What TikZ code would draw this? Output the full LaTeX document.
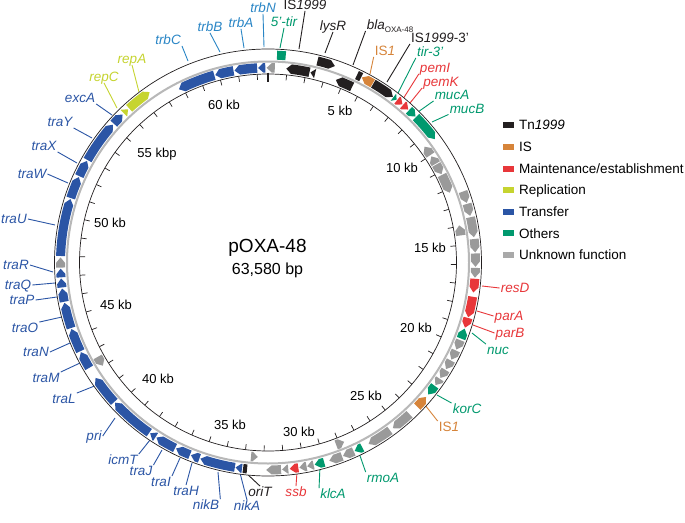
\documentclass[tikz,border=0pt]{standalone}
\usepackage{fontspec}
\setmainfont{Liberation Sans}
\definecolor{tnblack}{HTML}{231F20}
\definecolor{isorange}{HTML}{D6843A}
\definecolor{mred}{HTML}{E8373A}
\definecolor{repyel}{HTML}{C6D430}
\definecolor{trblue}{HTML}{2B55A5}
\definecolor{trblight}{HTML}{2A86C6}
\definecolor{ogreen}{HTML}{00996E}
\definecolor{ugray}{HTML}{9A9A9A}
\definecolor{ringgray}{HTML}{B8B8B8}
\newcommand\gcw[5]{%
  \pgfmathsetmacro\gA{#1-90}%
  \pgfmathsetmacro\gB{#2-90}%
  \pgfmathsetmacro\gC{#2-90-min(1.5,#2-#1)}%
  \pgfmathsetmacro\gM{(#3+#4)/2}%
  \fill[#5] (\gA:#3) -- (\gA:#4) arc[start angle=\gA, end angle=\gC, radius=#4] -- (\gB:\gM) -- (\gC:#3) arc[start angle=\gC, end angle=\gA, radius=#3] -- cycle;}
\newcommand\gccw[5]{%
  \pgfmathsetmacro\gA{#1-90}%
  \pgfmathsetmacro\gB{#2-90}%
  \pgfmathsetmacro\gC{#1-90+min(1.5,#2-#1)}%
  \pgfmathsetmacro\gM{(#3+#4)/2}%
  \fill[#5] (\gA:\gM) -- (\gC:#4) arc[start angle=\gC, end angle=\gB, radius=#4] -- (\gB:#3) arc[start angle=\gB, end angle=\gC, radius=#3] -- cycle;}
\newcommand\gbox[5]{%
  \pgfmathsetmacro\gA{#1-90}%
  \pgfmathsetmacro\gB{#2-90}%
  \fill[#5] (\gA:#3) arc[start angle=\gA, end angle=\gB, radius=#3] -- (\gB:#4) arc[start angle=\gB, end angle=\gA, radius=#4] -- cycle;}
\newcommand\ocw[3]{\gcw{#1}{#2}{203}{212}{#3}}
\newcommand\occw[3]{\gccw{#1}{#2}{203}{212}{#3}}
\newcommand\obox[3]{\gbox{#1}{#2}{203}{212}{#3}}
\newcommand\icw[3]{\gcw{#1}{#2}{190}{199.5}{#3}}
\newcommand\iccw[3]{\gccw{#1}{#2}{190}{199.5}{#3}}
\begin{document}
\begin{tikzpicture}[x=1pt,y=-1pt,
  lbl/.style={font=\fontsize{13.5}{15}\selectfont\itshape, inner sep=1pt, text height=9.5pt, text depth=0pt},
  kb/.style={font=\fontsize{13}{15}\selectfont, inner sep=0pt, text height=9.5pt, text depth=0pt},
  leg/.style={font=\fontsize{13.5}{15}\selectfont, inner sep=0pt, anchor=west, text height=9.5pt, text depth=0pt},
  legsq/.style={minimum width=10.5pt, minimum height=6pt, inner sep=0pt},
  lead/.style={line width=0.9pt}]
\useasboundingbox (0,0) rectangle (685,522);
\fill[white] (0,0) rectangle (685,522);

% ---------- labels ----------
\begin{scope}[lbl]
% top
\node[trblight] (trbN) at (263,8) {trbN};
\node[trblight] (trbA) at (241,23) {trbA};
\node[trblight] (trbB) at (210,27) {trbB};
\node[trblight] (trbC) at (168,40) {trbC};
\node[ogreen] (tirfive) at (284,22) {5'-tir};
\node[tnblack] (isnn) at (305,5) {{\upshape IS}1999};
\node[tnblack] (lysR) at (333,26) {lysR};
\node[tnblack] (bla) at (390,25) {bla\raisebox{-2.5pt}{\fontsize{8}{8}\selectfont\upshape OXA-48}};
\node[isorange] (isonea) at (385,51) {{\upshape IS}1};
\node[tnblack] (isthree) at (440,38) {{\upshape IS}1999{\upshape -3'}};
\node[ogreen] (tirthree) at (430,52) {tir-3'};
\node[mred] (pemI) at (435,68) {pemI};
\node[mred] (pemK) at (441,82) {pemK};
\node[ogreen] (mucA) at (452,95) {mucA};
\node[ogreen] (mucB) at (467,108.5) {mucB};
% right
\node[mred] (resD) at (515,288) {resD};
\node[mred] (parA) at (509,316) {parA};
\node[mred] (parB) at (510,333) {parB};
\node[ogreen] (nuc) at (498,350) {nuc};
\node[ogreen] (korC) at (467,409) {korC};
\node[isorange] (isoneb) at (449,427) {{\upshape IS}1};
% bottom
\node[ogreen] (rmoA) at (383,478) {rmoA};
\node[ogreen] (klcA) at (333,494) {klcA};
\node[mred] (ssb) at (296,492) {ssb};
\node[tnblack] (oriT) at (260,492) {oriT};
\node[trblue] (nikA) at (247,506) {nikA};
\node[trblue] (nikB) at (206,505) {nikB};
\node[trblue] (traH) at (186,491) {traH};
\node[trblue] (traI) at (161,482) {traI};
\node[trblue] (traJ) at (141,471) {traJ};
\node[trblue] (icmT) at (123,460) {icmT};
\node[trblue] (pri) at (94,436) {pri};
% left
\node[trblue] (traL) at (64,399) {traL};
\node[trblue] (traM) at (46,378) {traM};
\node[trblue] (traN) at (36,352) {traN};
\node[trblue] (traO) at (25,328) {traO};
\node[trblue] (traP) at (22,300) {traP};
\node[trblue] (traQ) at (18,285) {traQ};
\node[trblue] (traR) at (16,265) {traR};
\node[trblue] (traU) at (14,219) {traU};
\node[trblue] (traW) at (32,174) {traW};
\node[trblue] (traX) at (44,146) {traX};
\node[trblue] (traY) at (60,122) {traY};
\node[trblue] (excA) at (80,98) {excA};
\node[repyel] (repC) at (104,77) {repC};
\node[repyel] (repA) at (132,59) {repA};
\end{scope}

% ---------- connector ends ----------
\coordinate (e-trbN) at (264,47);
\coordinate (e-trbA) at (244,48);
\coordinate (e-trbB) at (220,52);
\coordinate (e-trbC) at (188,61);
\coordinate (e-tirfive) at (280,48);
\coordinate (e-isnn) at (299,49);
\coordinate (e-lysR) at (325,53);
\coordinate (e-bla) at (353,65);
\coordinate (e-isonea) at (370,74);
\coordinate (e-isthree) at (387,82);
\coordinate (e-tirthree) at (398,93);
\coordinate (e-pemI) at (403,99);
\coordinate (e-pemK) at (410,103);
\coordinate (e-mucA) at (418,112);
\coordinate (e-mucB) at (432,122);
\coordinate (e-resD) at (482,286);
\coordinate (e-parA) at (477,311);
\coordinate (e-parB) at (473,325);
\coordinate (e-nuc) at (472,333);
\coordinate (e-korC) at (437,395);
\coordinate (e-isoneb) at (425,405);
\coordinate (e-rmoA) at (358,450);
\coordinate (e-klcA) at (320,466);
\coordinate (e-ssb) at (297,472);
\coordinate (e-oriT) at (245,472);
\coordinate (e-nikA) at (240,473);
\coordinate (e-nikB) at (218,472);
\coordinate (e-traH) at (192,463);
\coordinate (e-traI) at (180,458);
\coordinate (e-traJ) at (162,450);
\coordinate (e-icmT) at (150,440);
\coordinate (e-pri) at (115,418);
\coordinate (e-traL) at (97,385);
\coordinate (e-traM) at (80,363);
\coordinate (e-traN) at (70,343);
\coordinate (e-traO) at (62,317);
\coordinate (e-traP) at (57,297);
\coordinate (e-traQ) at (55,283);
\coordinate (e-traR) at (53,272);
\coordinate (e-traU) at (55,225);
\coordinate (e-traW) at (68,183);
\coordinate (e-traX) at (77,163);
\coordinate (e-traY) at (92,138);
\coordinate (e-excA) at (112,115);
\coordinate (e-repC) at (117,108);
\coordinate (e-repA) at (139,92);

\begin{scope}[lead]
\draw[trblight] (trbN.south) -- (e-trbN);
\draw[trblight] (trbA.south) -- (e-trbA);
\draw[trblight] (trbB.south) -- (e-trbB);
\draw[trblight] (trbC.south east) -- (e-trbC);
\draw[ogreen] (tirfive.south) -- (e-tirfive);
\draw[tnblack] (isnn.south) -- (e-isnn);
\draw[tnblack] (lysR.south) -- (e-lysR);
\draw[tnblack] (bla.south west) -- (e-bla);
\draw[isorange] (isonea.south west) -- (e-isonea);
\draw[tnblack] (isthree.south west) -- (e-isthree);
\draw[ogreen] (tirthree.south west) -- (e-tirthree);
\draw[mred] (pemI.south west) -- (e-pemI);
\draw[mred] (pemK.south west) -- (e-pemK);
\draw[ogreen] (mucA.south west) -- (e-mucA);
\draw[ogreen] (mucB.south west) -- (e-mucB);
\draw[mred] (resD.west) -- (e-resD);
\draw[mred] (parA.west) -- (e-parA);
\draw[mred] (parB.west) -- (e-parB);
\draw[ogreen] (nuc.north west) -- (e-nuc);
\draw[ogreen] (korC.north west) -- (e-korC);
\draw[isorange] (isoneb.north west) -- (e-isoneb);
\draw[ogreen] (rmoA.north west) -- (e-rmoA);
\draw[ogreen] (klcA.north west) -- (e-klcA);
\draw[mred] (ssb.north) -- (e-ssb);
\draw[tnblack] (oriT.north) -- (e-oriT);
\draw[trblue] (nikA.north) -- (e-nikA);
\draw[trblue] (nikB.north east) -- (e-nikB);
\draw[trblue] (traH.north) -- (e-traH);
\draw[trblue] (traI.north east) -- (e-traI);
\draw[trblue] (traJ.north east) -- (e-traJ);
\draw[trblue] (icmT.north east) -- (e-icmT);
\draw[trblue] (pri.east) -- (e-pri);
\draw[trblue] (traL.north east) -- (e-traL);
\draw[trblue] (traM.north east) -- (e-traM);
\draw[trblue] (traN.east) -- (e-traN);
\draw[trblue] (traO.north east) -- (e-traO);
\draw[trblue] (traP.east) -- (e-traP);
\draw[trblue] (traQ.east) -- (e-traQ);
\draw[trblue] (traR.east) -- (e-traR);
\draw[trblue] (traU.east) -- (e-traU);
\draw[trblue] (traW.east) -- (e-traW);
\draw[trblue] (traX.south east) -- (e-traX);
\draw[trblue] (traY.south east) -- (e-traY);
\draw[trblue] (excA.south east) -- (e-excA);
\draw[repyel] (repC.south) -- (e-repC);
\draw[repyel] (repA.south) -- (e-repA);
\end{scope}

% ---------- map ----------
\begin{scope}[shift={(268,262.5)}]
\fill[white] (0,0) circle[radius=213.5];
\draw[ringgray, line width=2pt] (0,0) circle[radius=201];
\draw[tnblack, line width=0.7pt] (0,0) circle[radius=213.5];
\draw[tnblack, line width=0.7pt] (0,0) circle[radius=188.5];
\foreach \k in {1,...,63}{\draw[tnblack, line width=0.7pt] ({\k*5.66216-90}:188.5) -- ({\k*5.66216-90}:183);}
\draw[tnblack, line width=2.2pt] (-90:190) -- (-90:180.5);

% outer strand
\obox{2.5}{4.9}{ogreen}
\ocw{13.8}{18.8}{tnblack}
\obox{25.4}{26.7}{tnblack}
\occw{26.9}{30.3}{isorange}
\ocw{30.5}{37}{tnblack}
\ocw{37.2}{38.3}{ogreen}
\ocw{38.5}{40.4}{mred}
\ocw{40.6}{42.5}{mred}
\ocw{42.8}{45.3}{ogreen}
\ocw{45.5}{53.5}{ogreen}
\ocw{70}{73.3}{ugray}
\ocw{73.6}{77}{ugray}
\ocw{77.4}{83}{ugray}
\ocw{83.5}{87.2}{ugray}
\ocw{87.5}{91.2}{ugray}
\ocw{91.5}{94.2}{ugray}
\ocw{94.5}{98.3}{mred}
\ocw{99.5}{105.3}{mred}
\ocw{105.5}{108.3}{mred}
\occw{108.6}{111.5}{ogreen}
\ocw{112}{114.8}{ugray}
\ocw{115.1}{117.9}{ugray}
\ocw{118.2}{120.9}{ugray}
\ocw{121.2}{123.8}{ugray}
\ocw{124.1}{126.2}{ugray}
\ocw{126.5}{129.5}{ogreen}
\occw{130.4}{134}{isorange}
\ocw{137}{143}{ugray}
\ocw{144}{151}{ugray}
\ocw{153}{155.3}{ogreen}
\ocw{155.6}{158.8}{ugray}
\ocw{159.1}{162.8}{ugray}
\ocw{164.3}{167}{ogreen}
\ocw{167.3}{169.1}{ugray}
\ocw{169.3}{171.3}{ugray}
\ocw{171.6}{174}{mred}
\ocw{174.4}{176.1}{ugray}
\ocw{176.4}{180.5}{ugray}
\obox{185.8}{186.9}{tnblack}
\ocw{187.2}{189}{trblue}
\ocw{189.2}{199}{trblue}
\ocw{199.3}{201.8}{trblue}
\ocw{202.1}{206.3}{trblue}
\ocw{206.6}{212.5}{trblue}
\ocw{212.8}{214.6}{trblue}
\ocw{214.9}{227.5}{trblue}
\ocw{227.8}{236.2}{trblue}
\ocw{239.5}{244.4}{trblue}
\ocw{244.7}{251.3}{trblue}
\ocw{251.6}{258.8}{trblue}
\ocw{259.1}{262.8}{trblue}
\ocw{263.1}{265.6}{trblue}
\ocw{265.9}{268.3}{trblue}
\ocw{268.6}{271.4}{ugray}
\ocw{271.8}{287.8}{trblue}
\ocw{288.1}{294.3}{trblue}
\ocw{294.6}{299.3}{trblue}
\ocw{299.6}{311.6}{trblue}
\ocw{312}{315.5}{trblue}
\ocw{316}{317.6}{repyel}
\ocw{318}{325.2}{repyel}

% inner strand
\iccw{-27.2}{-16}{trblue}
\iccw{-15.7}{-10.2}{trblue}
\iccw{-9.9}{-3.2}{trblue}
\iccw{-2.9}{-0.8}{trblue}
\iccw{-0.4}{2}{ugray}
\iccw{5.4}{12.3}{tnblack}
\iccw{12.6}{14}{tnblack}
\iccw{20.4}{25.6}{tnblack}
\iccw{53.5}{56.5}{ugray}
\iccw{57}{59.5}{ugray}
\icw{59.8}{63}{ugray}
\icw{63.3}{69}{ugray}
\iccw{79}{82}{ugray}
\iccw{157}{159.5}{ugray}
\iccw{183}{185}{ugray}
\iccw{238}{241}{ugray}
\end{scope}

% ---------- kb labels ----------
\node[kb] (kbA) at (340,111) {5 kb};
\node[kb] (kbB) at (402,168) {10 kb};
\node[kb] (kbC) at (430,248) {15 kb};
\node[kb] (kbD) at (416,328) {20 kb};
\node[kb] (kbE) at (366,396) {25 kb};
\node[kb] (kbF) at (299,432) {30 kb};
\node[kb] (kbG) at (230,425) {35 kb};
\node[kb] (kbH) at (158,379) {40 kb};
\node[kb] (kbI) at (116,305) {45 kb};
\node[kb] (kbJ) at (110,223) {50 kb};
\node[kb] (kbK) at (157,153) {55 kbp};
\node[kb] (kbL) at (224,105) {60 kb};

% ---------- centre ----------
\node[font=\fontsize{19}{21}\selectfont, inner sep=0pt] (title) at (267.5,248) {pOXA-48};
\node[font=\fontsize{16}{18}\selectfont, inner sep=0pt] (size) at (267.5,270) {63,580 bp};

% ---------- legend ----------
\node[legsq, fill=tnblack] (sqA) at (508.5,125) {};
\node[legsq, fill=isorange] (sqB) at (508.5,146.7) {};
\node[legsq, fill=mred] (sqC) at (508.5,168.5) {};
\node[legsq, fill=repyel] (sqD) at (508.5,190) {};
\node[legsq, fill=trblue] (sqE) at (508.5,211.7) {};
\node[legsq, fill=ogreen] (sqF) at (508.5,233.3) {};
\node[legsq, fill=ugray!85] (sqG) at (508.5,255) {};
\node[leg] (tA) at (519,125) {Tn\textit{1999}};
\node[leg] (tB) at (519,146.7) {IS};
\node[leg] (tC) at (519,168.5) {Maintenance/establishment};
\node[leg] (tD) at (519,190) {Replication};
\node[leg] (tE) at (519,211.7) {Transfer};
\node[leg] (tF) at (519,233.3) {Others};
\node[leg] (tG) at (519,255) {Unknown function};
\end{tikzpicture}
\end{document}
